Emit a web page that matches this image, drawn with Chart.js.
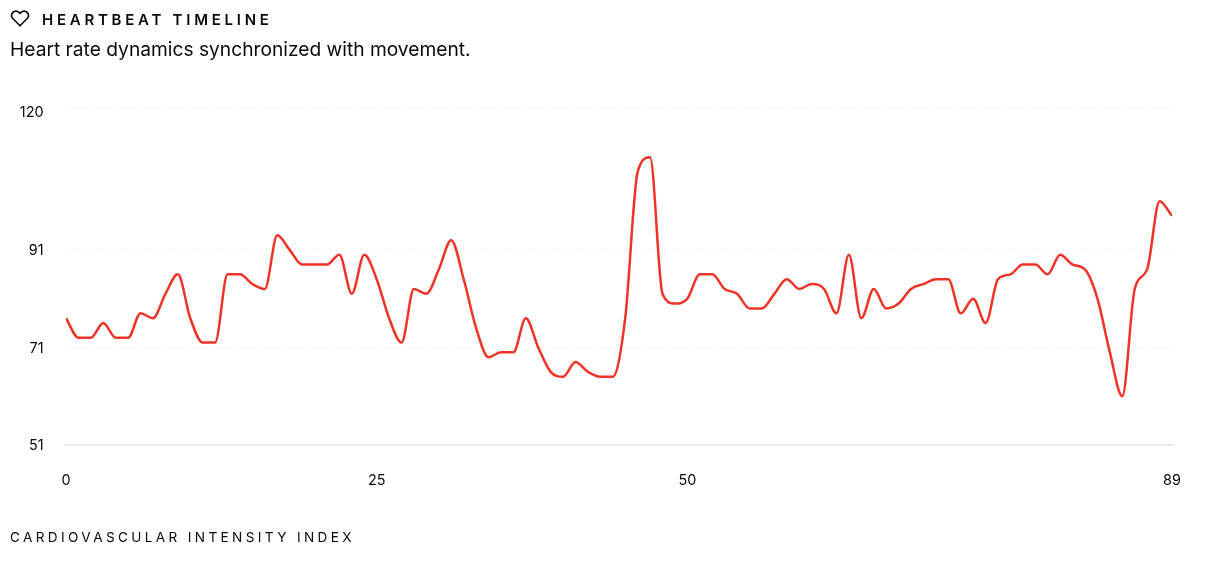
<!DOCTYPE html>
<html><head><meta charset="utf-8">
<script src="https://cdn.jsdelivr.net/npm/chart.js@4"></script>
<style>
html,body{margin:0;padding:0;background:#fff;width:1230px;height:562px;overflow:hidden;font-family:Inter,sans-serif;color:#0a0a0a}
#wrap{position:absolute;left:0;top:0;width:1230px;height:562px}
canvas{position:absolute;left:0;top:0}
.t{position:absolute;white-space:nowrap}
#title{left:42px;top:11px;font-size:15px;font-weight:600;letter-spacing:3.75px;line-height:17px}
#sub{left:10px;top:37px;font-size:19.2px;line-height:24px}
#foot{left:10px;top:529px;font-size:13.6px;font-weight:400;letter-spacing:3.36px;line-height:16px}
svg{position:absolute;left:10px;top:9px}
</style></head><body>
<div id="wrap">
<canvas id="c" width="1230" height="562"></canvas>
<svg width="20" height="18" viewBox="0 0 24 22" fill="none" stroke="#0a0a0a" stroke-width="2" stroke-linecap="round" stroke-linejoin="round"><path d="M12 20.5 3.2 11.6a5.3 5.3 0 0 1 0-7.5 5.3 5.3 0 0 1 7.5 0L12 5.4l1.3-1.3a5.3 5.3 0 0 1 7.5 0 5.3 5.3 0 0 1 0 7.5z"/></svg>
<div class="t" id="title">HEARTBEAT TIMELINE</div>
<div class="t" id="sub">Heart rate dynamics synchronized with movement.</div>
<div class="t" id="foot">CARDIOVASCULAR INTENSITY INDEX</div>
</div>
<script>
const heartRate = [77,73,73,76,73,73,78,77,82,86,77,72,72,86,86,84,83,94,91,88,88,88,90,82,90,85,77,72,83,82,87,93,85,75,69,70,70,77,71,66,65,68,66,65,65,77,107,110,82,80,81,86,86,83,82,79,79,82,85,83,84,83,78,90,77,83,79,80,83,84,85,85,78,81,76,85,86,88,88,86,90,88,87,81,70,61,83,87,101,98];
const indices = heartRate.map((_, i) => i);
const xTicks = [0,25,50,89];
const yTicks = [51,71,91,120];
const LINE = '#ef3326', INK = '#0a0a0a';
new Chart(document.getElementById('c'), {
  type: 'line',
  data: { labels: indices, datasets: [{ data: heartRate, borderColor: LINE, borderWidth: 2.5, pointRadius: 0, fill: false, cubicInterpolationMode: 'monotone' }] },
  options: {
    responsive: false, animation: false,
    layout: { padding: { top: 108.5, right: 58, left: 0, bottom: 0 } },
    plugins: { legend: { display: false }, tooltip: { enabled: false } },
    scales: {
      x: { type: 'linear', min: 0, max: 89,
        afterBuildTicks: s => { s.ticks = xTicks.map(v => ({ value: v })); },
        grid: { display: false },
        border: { display: true, color: '#e5e5e5', width: 1.5 },
        afterFit: s => { s.height = 117; },
        ticks: { autoSkip: false, maxRotation: 0, padding: 19, color: INK, font: { family: 'Inter', size: 14.4 }, callback: v => String(v) } },
      y: { min: 51, max: 120,
        afterBuildTicks: s => { s.ticks = yTicks.map(v => ({ value: v })); },
        afterFit: s => { s.width = 66; },
        grid: { drawTicks: false, color: '#f3f3f3', lineWidth: 1 },
        border: { display: false, dash: [3, 3] },
        ticks: { padding: 22.5, color: INK, callback: v => ['', String(v)],
          font: ctx => ({ family: 'Inter', size: 14.4, lineHeight: ctx.tick && ctx.tick.value === 120 ? '9px' : '2px' }) } }
    }
  }
});
</script>
</body></html>
